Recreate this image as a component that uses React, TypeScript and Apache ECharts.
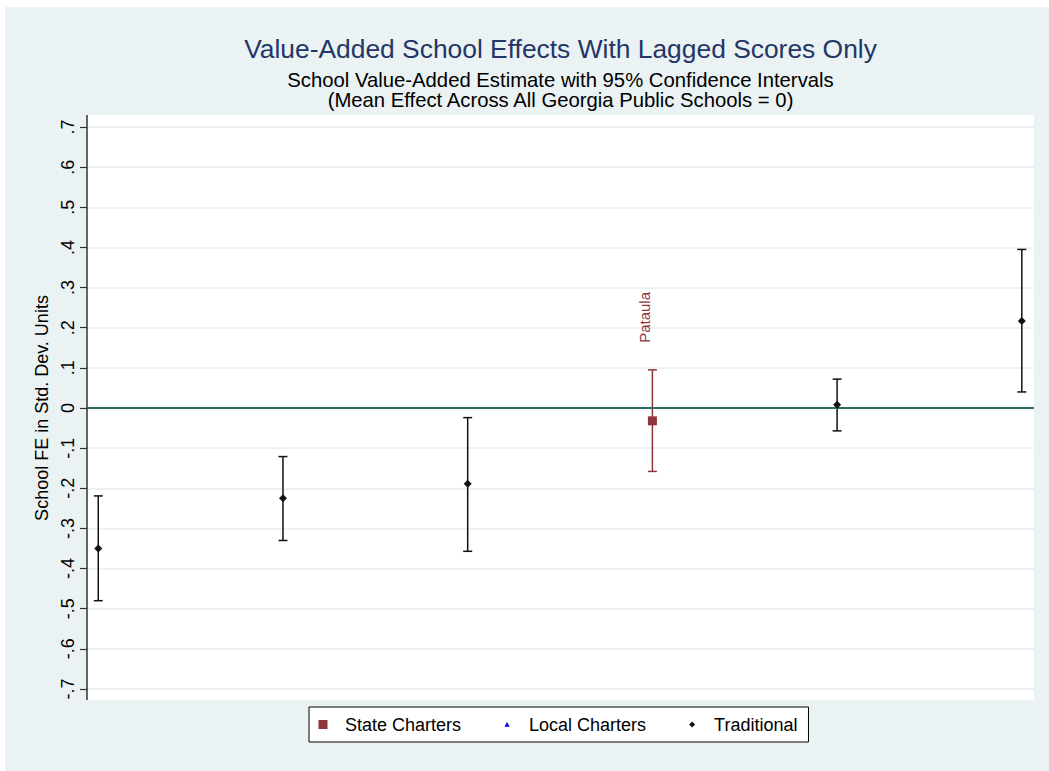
import React, { useEffect, useRef } from "react";
import * as echarts from "echarts";

// ---- Data ----
const schoolRank = [1, 2, 3, 4, 5, 6];
const schoolType = ["Traditional", "Traditional", "Traditional", "State Charters", "Traditional", "Traditional"];
const schoolLabels = ["", "", "", "Pataula", "", ""];
const estimates = [-0.35, -0.225, -0.189, -0.032, 0.008, 0.217];
const lowerCI = [-0.48, -0.33, -0.357, -0.158, -0.057, 0.04];
const upperCI = [-0.219, -0.121, -0.024, 0.095, 0.072, 0.395];
const legendNames = ["State Charters", "Local Charters", "Traditional"];
const yTickValues = [-0.7, -0.6, -0.5, -0.4, -0.3, -0.2, -0.1, 0, 0.1, 0.2, 0.3, 0.4, 0.5, 0.6, 0.7];
const yTickLabels = ["-.7", "-.6", "-.5", "-.4", "-.3", "-.2", "-.1", "0", ".1", ".2", ".3", ".4", ".5", ".6", ".7"];
const titleText = "Value-Added School Effects With Lagged Scores Only";
const subtitleLines = [
  "School Value-Added Estimate with 95% Confidence Intervals",
  "(Mean Effect Across All Georgia Public Schools = 0)",
];

const FONT = "'Liberation Sans', Arial, Helvetica, sans-serif";
const BG = "#EAF2F3";
const MAROON = "#90353B";
const BLUE = "#0000F0";
const BLACK = "#111111";
const colorByType: Record<string, string> = {
  "State Charters": MAROON,
  "Local Charters": BLUE,
  Traditional: BLACK,
};

export default function App() {
  const ref = useRef<HTMLDivElement>(null);

  useEffect(() => {
    document.body.style.margin = "0";
    if (!ref.current) return;
    const chart = echarts.init(ref.current, undefined, { renderer: "svg" });

    const pointsOf = (type: string) =>
      schoolRank
        .map((r, i) => ({ i, r }))
        .filter(({ i }) => schoolType[i] === type)
        .map(({ i, r }) => ({ value: [r, estimates[i]], name: schoolLabels[i] }));

    const ciData = schoolRank.map((r, i) => [r, lowerCI[i], upperCI[i], i]);

    const subStyle = { fontSize: 20.3, lineHeight: 20, fontWeight: "normal", color: "#000", fontFamily: FONT };

    const option: any = {
      animation: false,
      backgroundColor: BG,
      textStyle: { fontFamily: FONT },
      title: [
        {
          text: titleText,
          left: 555.5,
          top: 29,
          textAlign: "center",
          padding: 0,
          textStyle: { fontSize: 26.4, fontWeight: "normal", color: "#243665", fontFamily: FONT },
        },
        {
          text: subtitleLines[0],
          left: 555.5,
          top: 63,
          textAlign: "center",
          padding: 0,
          textStyle: subStyle,
        },
        {
          text: subtitleLines[1],
          left: 555.5,
          top: 83,
          textAlign: "center",
          padding: 0,
          textStyle: subStyle,
        },
      ],
      grid: { left: 82, right: 15, top: 120, bottom: 82 },
      xAxis: { type: "value", min: 0.939, max: 6.066, show: false },
      yAxis: {
        type: "value",
        min: -0.7,
        max: 0.7,
        interval: 0.1,
        name: "School FE in Std. Dev. Units",
        nameLocation: "middle",
        nameRotate: 90,
        nameGap: 26,
        nameTextStyle: { fontSize: 18, color: "#000", fontFamily: FONT },
        axisLine: { show: false },
        axisTick: { show: true, length: 7, lineStyle: { color: "#333", width: 1.2 } },
        axisLabel: {
          rotate: 90,
          margin: 10,
          fontSize: 18,
          color: "#000",
          fontFamily: FONT,
          formatter: (v: number) => {
            const k = yTickValues.findIndex((t) => Math.abs(t - v) < 1e-6);
            return k >= 0 ? yTickLabels[k] : "";
          },
        },
        splitLine: { show: true, lineStyle: { color: "#E4EDF0", width: 1.5 } },
      },
      legend: {
        left: 304,
        top: 700,
        orient: "horizontal",
        backgroundColor: "#fff",
        borderColor: "#000",
        borderWidth: 1,
        borderRadius: 0,
        padding: [8, 11, 8, 7],
        itemGap: 39,
        itemWidth: 24,
        itemHeight: 10,
        selectedMode: false,
        textStyle: { fontSize: 18, lineHeight: 19, color: "#000", fontFamily: FONT },
        data: [
          { name: legendNames[0], icon: "path://M0,0M2.5,0.5L11.5,0.5L11.5,9.5L2.5,9.5ZM24,10" },
          { name: legendNames[1], icon: "path://M0,0M7,2.6L9.6,7.2L4.4,7.2ZM24,10" },
          { name: legendNames[2], icon: "path://M0,0M7,2L10,5L7,8L4,5ZM24,10" },
        ],
      },
      graphic: [
        {
          type: "rect",
          z: -10,
          silent: true,
          shape: { x: 82, y: 108, width: 947, height: 585 },
          style: { fill: "#ffffff" },
        },
        {
          type: "line",
          z: 50,
          silent: true,
          shape: { x1: 82, y1: 108, x2: 82, y2: 693 },
          style: { stroke: "#333", lineWidth: 1.5 },
        },
      ],
      series: [
        {
          type: "custom",
          name: "CI",
          data: ciData,
          encode: { x: 0, y: [1, 2] },
          z: 3,
          renderItem: (params: any, api: any) => {
            const x = api.value(0);
            const lo = api.value(1);
            const hi = api.value(2);
            const idx = api.value(3);
            const color = colorByType[schoolType[idx]];
            const top = api.coord([x, hi]);
            const bot = api.coord([x, lo]);
            const hw = 4.5;
            const style = { stroke: color, lineWidth: 1.5 };
            return {
              type: "group",
              children: [
                { type: "line", shape: { x1: top[0], y1: top[1], x2: bot[0], y2: bot[1] }, style },
                { type: "line", shape: { x1: top[0] - hw, y1: top[1], x2: top[0] + hw, y2: top[1] }, style },
                { type: "line", shape: { x1: bot[0] - hw, y1: bot[1], x2: bot[0] + hw, y2: bot[1] }, style },
              ],
            };
          },
        },
        {
          type: "scatter",
          name: legendNames[0],
          symbol: "rect",
          symbolSize: 9,
          z: 5,
          itemStyle: { color: MAROON, opacity: 1 },
          data: pointsOf("State Charters"),
          label: {
            show: true,
            formatter: "{b}",
            position: "top",
            distance: 73.5,
            rotate: 90,
            align: "left",
            verticalAlign: "bottom",
            fontSize: 15,
            color: MAROON,
            fontFamily: FONT,
          },
        },
        {
          type: "scatter",
          name: legendNames[1],
          symbol: "triangle",
          symbolSize: 6,
          z: 5,
          itemStyle: { color: BLUE, opacity: 1 },
          data: pointsOf("Local Charters"),
        },
        {
          type: "scatter",
          name: legendNames[2],
          symbol: "diamond",
          symbolSize: 8,
          z: 5,
          itemStyle: { color: BLACK, opacity: 1 },
          data: pointsOf("Traditional"),
          markLine: {
            silent: true,
            symbol: ["none", "none"],
            label: { show: false },
            lineStyle: { color: "#2E6B62", width: 2, type: "solid" },
            data: [{ yAxis: 0 }],
          },
        },
      ],
    };

    chart.setOption(option);
    return () => chart.dispose();
  }, []);

  return (
    <div style={{ position: "relative", width: 1049, height: 771, background: "#fff" }}>
      <div ref={ref} style={{ position: "absolute", left: 5, top: 7, width: 1044, height: 764 }} />
    </div>
  );
}
